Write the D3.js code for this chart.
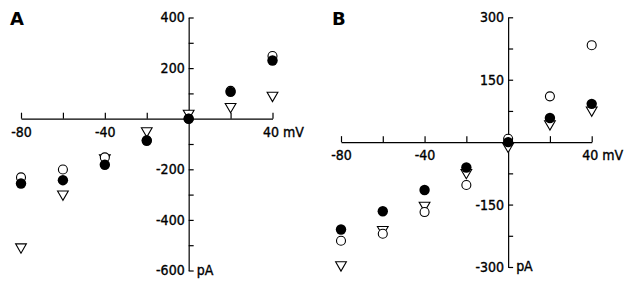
<!DOCTYPE html>
<html><head><meta charset="utf-8">
<script src="https://cdn.jsdelivr.net/npm/d3@7"></script>
<style>
body{margin:0;background:#fff;}
svg{display:block;}
.lbl{font-family:"DejaVu Sans Condensed","DejaVu Sans",sans-serif;font-size:14px;fill:#000;stroke:#000;stroke-width:0.35px;}
</style></head>
<body>
<svg id="c" width="630" height="282"></svg>
<script>
// ---- data ----
const voltages = [-80, -60, -40, -20, 0, 20, 40];
const xLabelValues = [-80, -40, 40];

// Panel A
const aFilled = [-256, -243, -182, -87, 0, 106, 230];
const aOpen   = [-232, -201, -153, -85, 0, 110, 248];
const aTri    = [-507, -298, -155, -48, 21, 48, 92];
const aYTicks = [400, 300, 200, 100, 0, -100, -200, -300, -400, -500, -600];
const aYLabels = [400, 200, -200, -400, -600];

// Panel B
const bFilled = [-210, -166, -115, -61, 0, 58, 92];
const bOpen   = [-237, -220, -168, -103, 8, 110, 233];
const bTri    = [-295, -210, -152, -73, -10, 44, 77];
const bYTicks = [300, 225, 150, 75, 0, -75, -150, -225, -300];
const bYLabels = [300, 150, -150, -300];

const svg = d3.select("#c");
const tri = d3.symbol().type(d3.symbolTriangle).size(50);

function panel(cfg){
  const x = d3.scaleLinear().domain([-80, 40]).range(cfg.xr);
  const y = d3.scaleLinear().domain(cfg.yd).range(cfg.yr);
  const g = svg.append("g");
  const x0 = x(0), y0 = y(0);

  // y axis (ticks pointing right, labels left)
  const ya = g.append("g").attr("transform", `translate(${x0},0)`)
    .call(d3.axisLeft(y).tickValues(cfg.yTicks).tickSizeInner(-5).tickSizeOuter(0).tickPadding(4)
      .tickFormat(d => cfg.yLabels.includes(d) ? String(d) : ""));
  ya.selectAll("text").attr("class", "lbl").attr("font-family", null).attr("font-size", null);

  // x axis (ticks pointing up, labels below)
  const xa = g.append("g").attr("transform", `translate(0,${y0})`)
    .call(d3.axisBottom(x).tickValues(voltages).tickSizeInner(-6).tickSizeOuter(0).tickPadding(8)
      .tickFormat(d => xLabelValues.includes(d) ? (d === 40 ? "40 mV" : String(d)) : ""));
  xa.selectAll("text").attr("class", "lbl").attr("font-family", null).attr("font-size", null);
  xa.selectAll(".tick").filter(d => d === 40).select("text").attr("text-anchor", "start").attr("dx", -10);

  [ya, xa].forEach(a => {
    a.select(".domain").attr("stroke", "#000").attr("stroke-width", 1.2);
    a.selectAll(".tick line").attr("stroke", "#000").attr("stroke-width", 1.2);
  });

  // unit "pA"
  g.append("text").attr("class", "lbl").attr("x", x0 + 8).attr("y", y(cfg.yd[0])).attr("dy", "0.32em").text("pA");

  // panel letter
  g.append("text").attr("x", cfg.letterX).attr("y", 25)
    .attr("font-family", "DejaVu Sans, sans-serif").attr("font-weight", "bold").attr("font-size", 18)
    .text(cfg.letter);

  // markers: triangles, open circles, filled circles
  g.selectAll(".tri").data(cfg.tri).join("path")
    .attr("d", tri).attr("transform", (d, i) => `translate(${x(voltages[i])},${y(d)}) rotate(180)`)
    .attr("fill", "#fff").attr("stroke", "#000").attr("stroke-width", 1.1);
  g.selectAll(".oc").data(cfg.open).join("circle")
    .attr("cx", (d, i) => x(voltages[i])).attr("cy", d => y(d)).attr("r", 4.5)
    .attr("fill", "#fff").attr("stroke", "#000").attr("stroke-width", 1.1);
  g.selectAll(".fc").data(cfg.filled).join("circle")
    .attr("cx", (d, i) => x(voltages[i])).attr("cy", d => y(d)).attr("r", 5.2)
    .attr("fill", "#000");
}

panel({xr: [21, 272.5], yd: [-600, 400], yr: [270.5, 17.5], yTicks: aYTicks, yLabels: aYLabels,
  filled: aFilled, open: aOpen, tri: aTri, letter: "A", letterX: 10});
panel({xr: [341, 591.7], yd: [-300, 300], yr: [267, 17.3], yTicks: bYTicks, yLabels: bYLabels,
  filled: bFilled, open: bOpen, tri: bTri, letter: "B", letterX: 332});
</script>
</body></html>
